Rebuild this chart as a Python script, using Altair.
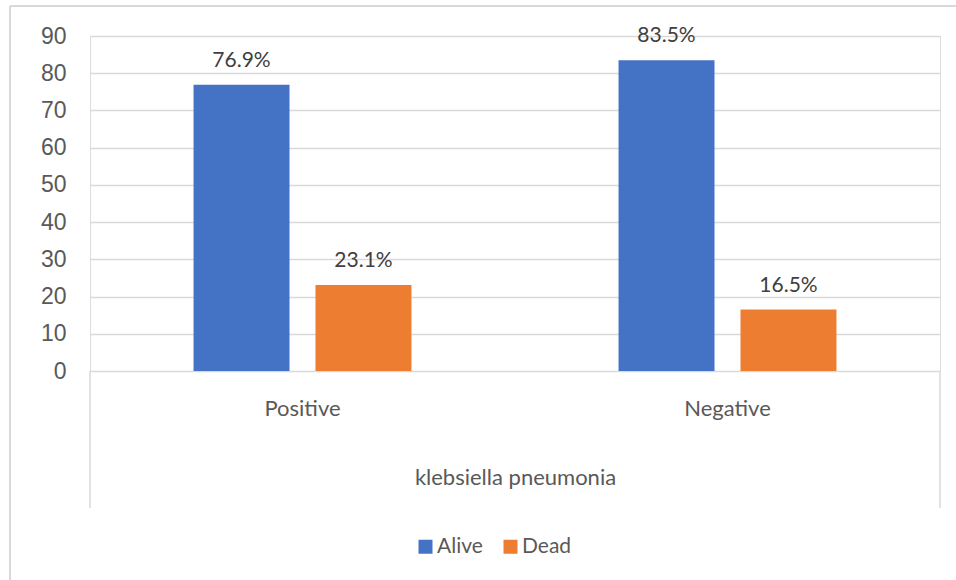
import altair as alt
import pandas as pd

categories = ["Positive", "Negative"]
groups = ["Alive", "Dead"]
alive_values = [76.9, 83.5]
dead_values = [23.1, 16.5]
value_labels_alive = ["76.9%", "83.5%"]
value_labels_dead = ["23.1%", "16.5%"]
axis_title = "klebsiella pneumonia"
y_ticks = [0, 10, 20, 30, 40, 50, 60, 70, 80, 90]

rows = []
for i, c in enumerate(categories):
    rows.append({"cat": c, "grp": "Alive", "val": alive_values[i], "lab": value_labels_alive[i]})
    rows.append({"cat": c, "grp": "Dead", "val": dead_values[i], "lab": value_labels_dead[i]})
df = pd.DataFrame(rows)

W, H = 850, 335
TXT = "#595959"
GRID = "#d9d9d9"
LFONT = "Lato"

x_scale = alt.Scale(paddingInner=0, paddingOuter=0)
xoff_scale = alt.Scale(paddingInner=0.213, paddingOuter=0.849)
y_scale = alt.Scale(domain=[0, 90], nice=False)

x_axis = alt.Axis(title=None, domain=False, ticks=False, labelAngle=0,
                  labelFont=LFONT, labelFontSize=22, labelColor=TXT,
                  labelPadding=27, grid=False)
y_axis = alt.Axis(title=None, values=y_ticks, domain=False, ticks=False,
                  grid=True, gridColor=GRID, gridWidth=1.5, labelOverlap=False,
                  labelFont="Liberation Sans", labelFontSize=23,
                  labelColor=TXT, labelPadding=24)

x_enc = alt.X("cat:N", sort=categories, scale=x_scale, axis=x_axis)
xoff = alt.XOffset("grp:N", sort=groups, scale=xoff_scale)
y_enc = alt.Y("val:Q", scale=y_scale, axis=y_axis)

base = alt.Chart(df)
bars = base.mark_bar().encode(
    x=x_enc, xOffset=xoff, y=y_enc,
    color=alt.Color("grp:N", sort=groups,
                    scale=alt.Scale(domain=groups, range=["#4472C4", "#ED7D31"]),
                    legend=alt.Legend(title=None, orient="none", direction="horizontal",
                                      legendX=325, legendY=500, symbolType="square",
                                      symbolSize=196, symbolStrokeWidth=0,
                                      labelFont=LFONT, labelFontSize=21, labelColor=TXT,
                                      labelOffset=1, columnPadding=17, padding=0))
)
labels = base.mark_text(font=LFONT, fontSize=21, color="#404040", baseline="alphabetic", dy=-18).encode(
    x=x_enc, xOffset=xoff, y=y_enc, text="lab:N"
)

line_df = pd.DataFrame({"k": [0]})
lb = alt.Chart(line_df)
left_box = lb.mark_rule(color=GRID, strokeWidth=1.5).encode(x=alt.value(0), y=alt.value(H), y2=alt.value(472))
right_box = lb.mark_rule(color=GRID, strokeWidth=1.5).encode(x=alt.value(W), y=alt.value(H), y2=alt.value(472))
title_txt = lb.mark_text(font=LFONT, fontSize=22, color=TXT, baseline="middle").encode(
    x=alt.value(W / 2 + 0.5), y=alt.value(442), text=alt.value(axis_title))
outer_top = lb.mark_rule(color=GRID, strokeWidth=2).encode(x=alt.value(-80), x2=alt.value(880), y=alt.value(-30))
outer_left = lb.mark_rule(color=GRID, strokeWidth=2).encode(x=alt.value(-80), y=alt.value(-30), y2=alt.value(560))

chart = alt.layer(bars, labels, left_box, right_box, title_txt, outer_top, outer_left).properties(
    width=W, height=H,
    autosize=alt.AutoSizeParams(type="none"),
    padding={"left": 90, "top": 36, "right": 16, "bottom": 209},
).configure_view(stroke="transparent", strokeWidth=0).configure(background="white")

chart.save("out.html", embed_options={"renderer": "svg", "actions": False})
